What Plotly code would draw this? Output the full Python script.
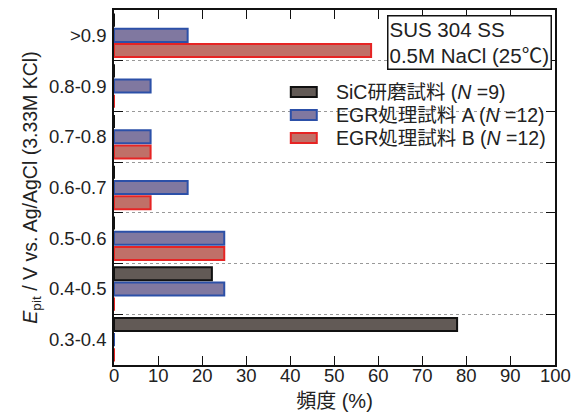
import plotly.graph_objects as go

categories = ["0.3-0.4", "0.4-0.5", "0.5-0.6", "0.6-0.7", "0.7-0.8", "0.8-0.9", ">0.9"]
sic_values = [77.8, 22.2, 0, 0, 0, 0, 0]
egr_a_values = [0, 25, 25, 16.7, 8.3, 8.3, 16.7]
egr_b_values = [0, 0, 25, 8.3, 8.3, 0, 58.3]
series_names = ["SiC研磨試料 (<i>N</i> =9)", "EGR処理試料 A (<i>N</i> =12)", "EGR処理試料 B (<i>N</i> =12)"]
x_ticks = list(range(0, 101, 10))

FONT = "Liberation Sans, Arial, Noto Sans CJK JP, sans-serif"
styles = [
    dict(fill="#625a56", line="#111111"),
    dict(fill="#8078a0", line="#2c50a8"),
    dict(fill="#c07068", line="#e62424"),
]

# page body has an 8px default margin; the figure is sized to fill the rest
OFF = 8
W, H = 579 - OFF, 412 - OFF
L, R, T, B = 114 - OFF, 23.5, 10 - OFF, 55 - OFF
PW, PH = W - L - R, H - T - B

def px(x):  # screen pixel -> paper fraction
    return (x - OFF - L) / PW

def py(y):
    return (H - B - (y - OFF)) / PH

fig = go.Figure()
# plotted bottom-to-top within a group: B, A, SiC
for vals, name, st in [(egr_b_values, series_names[2], styles[2]),
                       (egr_a_values, series_names[1], styles[1]),
                       (sic_values, series_names[0], styles[0])]:
    fig.add_trace(go.Bar(
        y=categories, x=vals, orientation="h", name=name,
        marker=dict(color=st["fill"], line=dict(color=st["line"], width=2)),
        showlegend=False,
    ))

shapes = []
annotations = []
# white area behind legend
shapes.append(dict(type="rect", xref="paper", yref="paper",
                   x0=px(273), x1=px(547), y0=py(150), y1=py(78),
                   fillcolor="white", line=dict(width=0), layer="between"))
leg_y = [92, 115, 138]
for i, (name, st) in enumerate(zip(series_names, styles)):
    yc = leg_y[i]
    shapes.append(dict(type="rect", xref="paper", yref="paper",
                       x0=px(291), x1=px(317), y0=py(yc + 5), y1=py(yc - 5),
                       fillcolor=st["fill"], line=dict(color=st["line"], width=2),
                       layer="above"))
    annotations.append(dict(x=px(334), y=py(yc), xref="paper", yref="paper",
                            text=name, showarrow=False, xanchor="left", yanchor="middle",
                            font=dict(family=FONT, size=19.5, color="#222")))

annotations.append(dict(x=px(387), y=py(15), xref="paper", yref="paper",
                        text="SUS 304 SS<br>0.5M NaCl (25℃)", showarrow=False,
                        xanchor="left", yanchor="top", align="left",
                        bgcolor="white", bordercolor="#111", borderwidth=1.5, borderpad=1,
                        font=dict(family=FONT, size=20.5, color="#222")))

# x tick labels placed through the x scale
for v in x_ticks:
    annotations.append(dict(x=v, y=py(375), xref="x", yref="paper", text=str(v),
                            showarrow=False, xanchor="center", yanchor="middle",
                            font=dict(family=FONT, size=18.5, color="#222")))

fig.update_layout(
    width=W, height=H,
    margin=dict(l=L, r=R, t=T, b=B),
    paper_bgcolor="white", plot_bgcolor="white",
    barmode="group", bargap=0.1, bargroupgap=0.14,
    font=dict(family=FONT, size=18, color="#222"),
    shapes=shapes, annotations=annotations,
    xaxis=dict(range=[0, 100], tickvals=x_ticks, ticks="inside", ticklen=9, tickwidth=1.2,
               tickcolor="#111", showline=True, linecolor="#111", linewidth=1.5,
               mirror="ticks", showgrid=False, zeroline=False, automargin=False,
               showticklabels=False,
               title=dict(text="頻度 (%)", font=dict(size=20), standoff=31)),
    yaxis=dict(type="category", categoryorder="array", categoryarray=categories,
               range=[-0.5, 6.5], tickson="boundaries", ticks="inside", ticklen=9, tickwidth=1.2,
               tickcolor="#111", showline=True, linecolor="#111", linewidth=1.5,
               mirror="ticks", showgrid=True, gridcolor="#999", griddash="dot", gridwidth=1,
               automargin=False,
               tickfont=dict(size=18.5), ticklabelstandoff=2,
               title=dict(text="<i>E</i><sub>pit</sub> / V vs. Ag/AgCl (3.33M KCl)",
                          font=dict(size=19.5), standoff=6)),
)

fig.write_html("out.html")
